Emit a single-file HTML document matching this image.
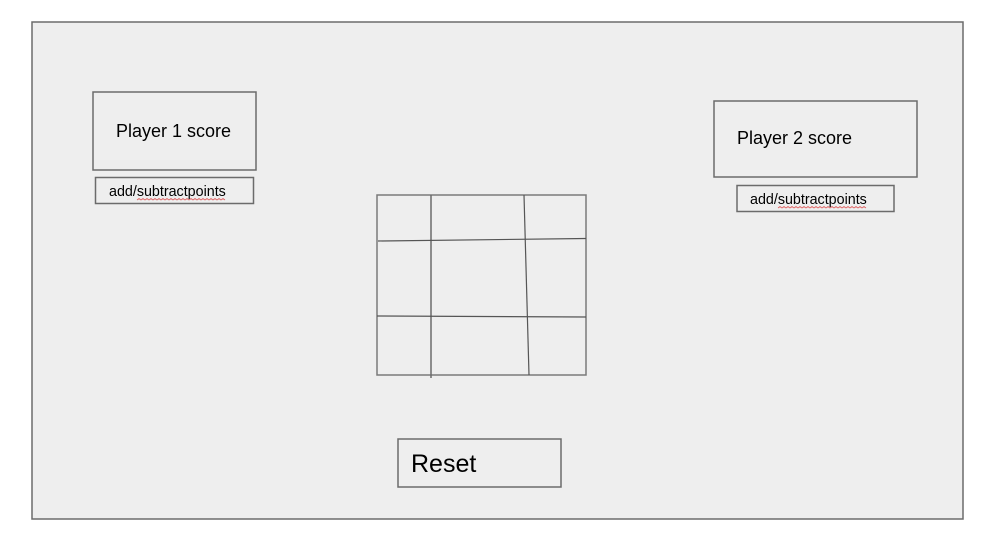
<!DOCTYPE html>
<html><head><meta charset="utf-8"><style>
html,body{margin:0;padding:0;background:#fff;width:985px;height:540px;overflow:hidden}
text{font-family:"Liberation Sans",sans-serif;fill:#000}
</style></head><body>
<svg width="985" height="540" viewBox="0 0 985 540">
<rect x="32" y="22" width="931" height="497" fill="#eeeeee" stroke="#6b6b6b" stroke-width="1.5"/>

<g>
<rect x="93" y="92" width="163" height="78" fill="#eeeeee" stroke="#6b6b6b" stroke-width="1.5"/>
<text x="116" y="137" font-size="18">Player 1 score</text>
</g>
<g>
<rect x="95.5" y="177.5" width="158" height="26" fill="#eeeeee" stroke="#6b6b6b" stroke-width="1.5"/>
<text x="109" y="196" font-size="14.3">add/subtractpoints</text>
<polyline points="137,200 139,198.5 141,200 143,198.5 145,200 147,198.5 149,200 151,198.5 153,200 155,198.5 157,200 159,198.5 161,200 163,198.5 165,200 167,198.5 169,200 171,198.5 173,200 175,198.5 177,200 179,198.5 181,200 183,198.5 185,200 187,198.5 189,200 191,198.5 193,200 195,198.5 197,200 199,198.5 201,200 203,198.5 205,200 207,198.5 209,200 211,198.5 213,200 215,198.5 217,200 219,198.5 221,200 223,198.5 225,200" fill="none" stroke="#e06060" stroke-width="0.8"/>
</g>

<g>
<rect x="714" y="101" width="203" height="76" fill="#eeeeee" stroke="#6b6b6b" stroke-width="1.5"/>
<text x="737" y="144" font-size="18">Player 2 score</text>
</g>
<g>
<rect x="737" y="185.5" width="157" height="26" fill="#eeeeee" stroke="#6b6b6b" stroke-width="1.5"/>
<text x="750" y="204" font-size="14.3">add/subtractpoints</text>
<polyline points="778,208 780,206.5 782,208 784,206.5 786,208 788,206.5 790,208 792,206.5 794,208 796,206.5 798,208 800,206.5 802,208 804,206.5 806,208 808,206.5 810,208 812,206.5 814,208 816,206.5 818,208 820,206.5 822,208 824,206.5 826,208 828,206.5 830,208 832,206.5 834,208 836,206.5 838,208 840,206.5 842,208 844,206.5 846,208 848,206.5 850,208 852,206.5 854,208 856,206.5 858,208 860,206.5 862,208 864,206.5 866,208" fill="none" stroke="#e06060" stroke-width="0.8"/>
</g>

<g stroke-width="1.5" fill="none">
<rect x="377" y="195" width="209" height="180" stroke="#7a7a7a"/>
<line x1="431" y1="195" x2="431" y2="378" stroke="#6b6b6b"/>
<line x1="524" y1="195" x2="529" y2="375" stroke="#555" stroke-width="1.2"/>
<line x1="378" y1="241" x2="586" y2="238.5" stroke="#555" stroke-width="1.2"/>
<line x1="377" y1="316" x2="586" y2="317" stroke="#555" stroke-width="1.2"/>
</g>

<g>
<rect x="398" y="439" width="163" height="48" fill="#eeeeee" stroke="#6b6b6b" stroke-width="1.5"/>
<text x="411" y="472" font-size="25">Reset</text>
</g>
</svg>
</body></html>
